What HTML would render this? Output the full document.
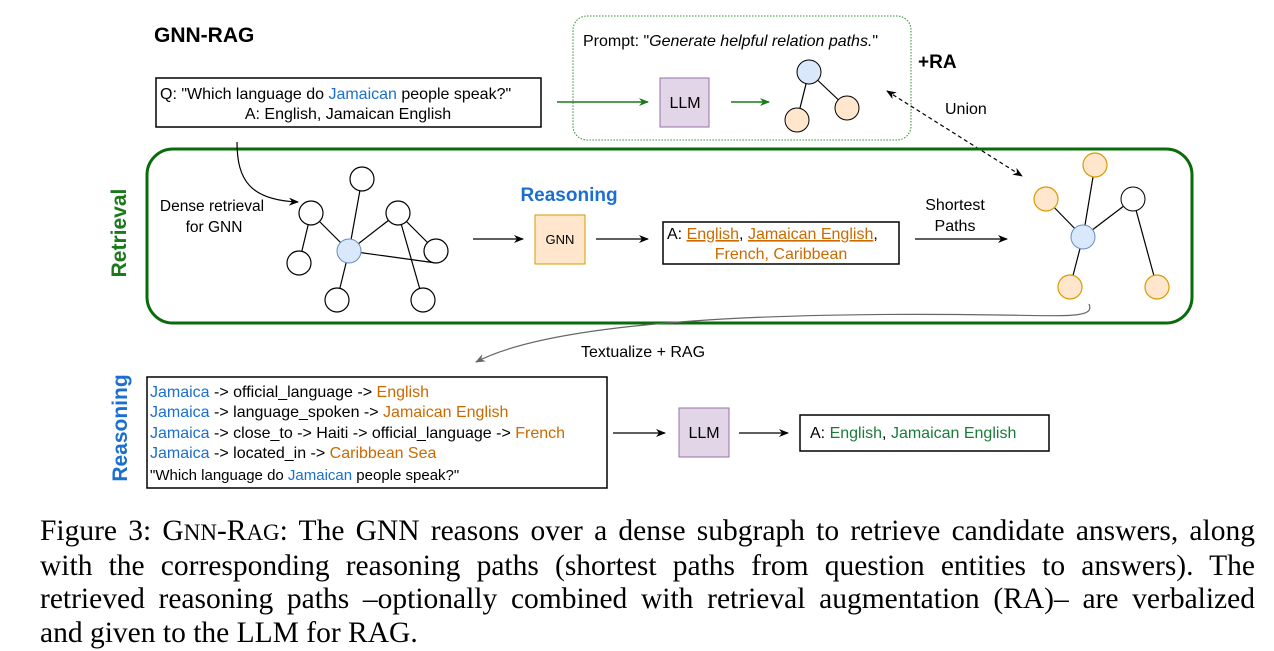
<!DOCTYPE html>
<html><head><meta charset="utf-8"><style>
body{margin:0;background:#fff;width:1274px;height:651px;overflow:hidden}
svg text{font-family:"Liberation Sans",sans-serif}
.cap{position:absolute;left:40px;top:515px;width:1215px;font-family:"Liberation Serif",serif;font-size:29.5px;line-height:33.5px;color:#000}
.cap div{text-align:justify;text-align-last:justify;white-space:nowrap}
.cap div.l{text-align-last:left}
</style></head><body>
<svg width="1274" height="651" style="position:absolute;left:0;top:0">
<defs>
<marker id="a" markerWidth="10" markerHeight="10" refX="9" refY="5" orient="auto" markerUnits="userSpaceOnUse"><path d="M0,1 L10,5 L0,9 L3,5Z" fill="#000"/></marker>
<marker id="ag" markerWidth="10" markerHeight="10" refX="9" refY="5" orient="auto" markerUnits="userSpaceOnUse"><path d="M0,1 L10,5 L0,9 L3,5Z" fill="#1a7a1a"/></marker>
<marker id="ar" markerWidth="10" markerHeight="10" refX="9" refY="5" orient="auto" markerUnits="userSpaceOnUse"><path d="M0,1 L10,5 L0,9 L3,5Z" fill="#666"/></marker>
<marker id="as" markerWidth="10" markerHeight="10" refX="1" refY="5" orient="auto" markerUnits="userSpaceOnUse"><path d="M10,1 L0,5 L10,9 L7,5Z" fill="#000"/></marker>
</defs>
<text x="154" y="42" font-size="21" font-weight="bold">GNN-RAG</text>
<rect x="156" y="78" width="385" height="49" fill="none" stroke="#000" stroke-width="1.5"/>
<text x="160" y="99" font-size="16">Q: "Which language do <tspan fill="#1a6fd0">Jamaican</tspan> people speak?"</text>
<text x="348" y="119" font-size="16" text-anchor="middle">A: English, Jamaican English</text>
<rect x="573" y="16" width="338" height="124" rx="14" fill="none" stroke="#2e8b2e" stroke-dasharray="1.5,1.5"/>
<text x="583" y="46" font-size="16">Prompt: "<tspan font-style="italic">Generate helpful relation paths.</tspan>"</text>
<text x="918" y="68" font-size="19" font-weight="bold">+RA</text>
<line x1="557" y1="102" x2="648" y2="102" stroke="#1a7a1a" stroke-width="1.5" marker-end="url(#ag)"/>
<rect x="660" y="78" width="49" height="49" fill="#e1d5e7" stroke="#9673a6"/>
<text x="685" y="108" font-size="16" text-anchor="middle">LLM</text>
<line x1="731" y1="102" x2="769" y2="102" stroke="#1a7a1a" stroke-width="1.5" marker-end="url(#ag)"/>
<g stroke="#000" stroke-width="1.2"><line x1="809" y1="72" x2="797" y2="120"/><line x1="809" y1="72" x2="847" y2="108"/></g>
<circle cx="809" cy="72" r="12" fill="#dae8fc" stroke="#000"/>
<circle cx="797" cy="120" r="12" fill="#ffe6cc" stroke="#000"/>
<circle cx="847" cy="108" r="12" fill="#ffe6cc" stroke="#000"/>
<text x="945" y="114" font-size="16">Union</text>
<line x1="887" y1="91" x2="1022" y2="176" stroke="#000" stroke-width="1.2" stroke-dasharray="4,3" marker-end="url(#a)" marker-start="url(#as)"/>
<rect x="147" y="149" width="1045" height="174" rx="26" fill="none" stroke="#0a6b0a" stroke-width="3"/>
<text transform="translate(126,233) rotate(-90)" font-size="21" font-weight="bold" fill="#1a7a1a" text-anchor="middle">Retrieval</text>
<path d="M237,142 C237,180 250,200 298,202" fill="none" stroke="#000" stroke-width="1.2" marker-end="url(#a)"/>
<text x="212" y="211" font-size="15.5" text-anchor="middle">Dense retrieval</text>
<text x="214" y="232" font-size="15.5" text-anchor="middle">for GNN</text>
<g stroke="#000" stroke-width="1.2">
<line x1="349" y1="251" x2="362" y2="179"/><line x1="349" y1="251" x2="311" y2="213"/><line x1="311" y1="213" x2="299" y2="263"/>
<line x1="349" y1="251" x2="398" y2="213"/><line x1="398" y1="213" x2="436" y2="251"/><line x1="398" y1="213" x2="423" y2="300"/>
<line x1="349" y1="251" x2="436" y2="263"/><line x1="349" y1="251" x2="337" y2="300"/></g>
<g fill="#fff" stroke="#000" stroke-width="1.2">
<circle cx="362" cy="179" r="12"/><circle cx="311" cy="213" r="12"/><circle cx="398" cy="213" r="12"/><circle cx="436" cy="251" r="12"/>
<circle cx="299" cy="263" r="12"/><circle cx="337" cy="300" r="12"/><circle cx="423" cy="300" r="12"/></g>
<circle cx="349" cy="251" r="12" fill="#dae8fc" stroke="#6c8ebf"/>
<text x="569" y="201" font-size="19" font-weight="bold" fill="#1a6fd0" text-anchor="middle">Reasoning</text>
<line x1="473" y1="239" x2="523" y2="239" stroke="#000" stroke-width="1.2" marker-end="url(#a)"/>
<rect x="535" y="215" width="50" height="49" fill="#ffe6cc" stroke="#d79b00"/>
<text x="560" y="244" font-size="13" text-anchor="middle">GNN</text>
<line x1="596" y1="239" x2="648" y2="239" stroke="#000" stroke-width="1.2" marker-end="url(#a)"/>
<rect x="663" y="222" width="236" height="42" fill="none" stroke="#000" stroke-width="1.5"/>
<text x="667" y="239" font-size="16">A: <tspan fill="#cc6a00" text-decoration="underline">English</tspan>, <tspan fill="#cc6a00" text-decoration="underline">Jamaican English</tspan>,</text>
<text x="781" y="259" font-size="16" text-anchor="middle" fill="#cc6a00">French, Caribbean</text>
<text x="955" y="210" font-size="16" text-anchor="middle">Shortest</text>
<text x="955" y="231" font-size="16" text-anchor="middle">Paths</text>
<line x1="915" y1="239" x2="1007" y2="239" stroke="#000" stroke-width="1.2" marker-end="url(#a)"/>
<g stroke="#000" stroke-width="1.2">
<line x1="1083" y1="237" x2="1095" y2="165"/><line x1="1083" y1="237" x2="1046" y2="199"/><line x1="1083" y1="237" x2="1133" y2="199"/>
<line x1="1083" y1="237" x2="1070" y2="287"/><line x1="1133" y1="199" x2="1157" y2="287"/></g>
<g fill="#ffe6cc" stroke="#d79b00" stroke-width="1.2">
<circle cx="1095" cy="165" r="12"/><circle cx="1046" cy="199" r="12"/><circle cx="1070" cy="287" r="12"/><circle cx="1157" cy="287" r="12"/></g>
<circle cx="1133" cy="199" r="12" fill="#fff" stroke="#000"/>
<circle cx="1083" cy="237" r="12" fill="#dae8fc" stroke="#6c8ebf"/>
<path d="M1089,304 C1095,318 1070,316 1000,315 C800,312 560,318 476,362" fill="none" stroke="#666" stroke-width="1.2" marker-end="url(#ar)"/>
<text x="643" y="357" font-size="16" text-anchor="middle">Textualize + RAG</text>
<text transform="translate(127,428) rotate(-90)" font-size="21" font-weight="bold" fill="#1a6fd0" text-anchor="middle">Reasoning</text>
<rect x="147" y="377" width="460" height="111" fill="none" stroke="#000" stroke-width="1.5"/>
<g font-size="16">
<text x="150" y="397"><tspan fill="#1a6fd0">Jamaica</tspan> -&gt; official_language -&gt; <tspan fill="#cc6a00">English</tspan></text>
<text x="150" y="417"><tspan fill="#1a6fd0">Jamaica</tspan> -&gt; language_spoken -&gt; <tspan fill="#cc6a00">Jamaican English</tspan></text>
<text x="150" y="438"><tspan fill="#1a6fd0">Jamaica</tspan> -&gt; close_to -&gt; Haiti -&gt; official_language -&gt; <tspan fill="#cc6a00">French</tspan></text>
<text x="150" y="458"><tspan fill="#1a6fd0">Jamaica</tspan> -&gt; located_in -&gt; <tspan fill="#cc6a00">Caribbean Sea</tspan></text>
<text x="150" y="480" font-size="15">"Which language do <tspan fill="#1a6fd0">Jamaican</tspan> people speak?"</text>
</g>
<line x1="613" y1="433" x2="665" y2="433" stroke="#000" stroke-width="1.2" marker-end="url(#a)"/>
<rect x="679" y="408" width="50" height="49" fill="#e1d5e7" stroke="#9673a6"/>
<text x="704" y="438" font-size="16" text-anchor="middle">LLM</text>
<line x1="739" y1="433" x2="788" y2="433" stroke="#000" stroke-width="1.2" marker-end="url(#a)"/>
<rect x="800" y="415" width="249" height="36" fill="none" stroke="#000" stroke-width="1.5"/>
<text x="810" y="438" font-size="16">A: <tspan fill="#1a7a3a">English</tspan>, <tspan fill="#1a7a3a">Jamaican English</tspan></text>
</svg>
<div class="cap">
<div>Figure 3: G<span style="font-size:23px">NN</span>-R<span style="font-size:23px">AG</span>: The GNN reasons over a dense subgraph to retrieve candidate answers, along</div>
<div>with the corresponding reasoning paths (shortest paths from question entities to answers). The</div>
<div>retrieved reasoning paths –optionally combined with retrieval augmentation (RA)– are verbalized</div>
<div class="l">and given to the LLM for RAG.</div>
</div>
</body></html>
